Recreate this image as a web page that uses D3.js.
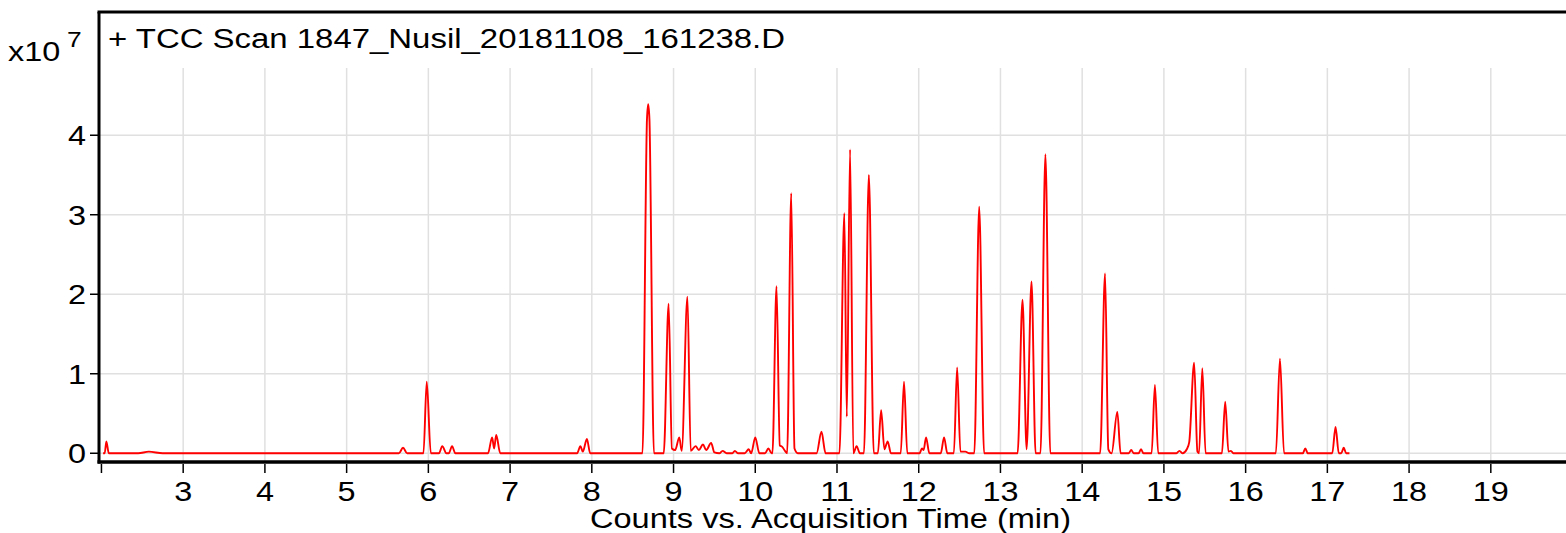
<!DOCTYPE html>
<html>
<head>
<meta charset="utf-8">
<script src="https://cdn.jsdelivr.net/npm/d3@7"></script>
<style>
  body { margin: 0; background: #fff; }
  text { font-family: "Liberation Sans", Arial, sans-serif; fill: #000; }
</style>
</head>
<body>
<div id="chart"></div>
<script>
// chromatogram trace: retention time (min) and counts (x10^7)
var rt = [
  2.02, 2.04, 2.06, 2.09, 2.45, 2.58, 2.75,
  5.64, 5.69, 5.74, 5.94, 5.98, 6.03, 6.13, 6.17, 6.22, 6.25, 6.29, 6.33,
  6.73, 6.78, 6.805, 6.83, 6.88, 7.82, 7.86, 7.89, 7.94, 7.98,
  8.62, 8.675, 8.69, 8.705, 8.76, 8.88, 8.94, 8.98, 9.02, 9.07, 9.10, 9.17, 9.21,
  9.27, 9.31, 9.36, 9.40, 9.46, 9.50, 9.56, 9.60, 9.65, 9.72, 9.75, 9.79,
  9.87, 9.92, 9.95, 10.00, 10.05, 10.12, 10.16, 10.20,
  10.21, 10.26, 10.30, 10.33, 10.37, 10.39, 10.44, 10.48, 10.52,
  10.75, 10.81, 10.86, 11.03, 11.09, 11.12, 11.16, 11.20, 11.24, 11.28,
  11.33, 11.39, 11.45, 11.50, 11.54, 11.58, 11.62, 11.66, 11.78, 11.82, 11.86,
  12.01, 12.04, 12.06, 12.09, 12.13, 12.27, 12.31, 12.35,
  12.43, 12.47, 12.51, 12.57, 12.62, 12.68, 12.74, 12.80,
  13.21, 13.27, 13.32, 13.38, 13.43, 13.49, 13.55, 13.61,
  14.22, 14.28, 14.32, 14.36, 14.43, 14.47, 14.57, 14.60, 14.63, 14.69, 14.72, 14.75,
  14.85, 14.89, 14.93, 15.15, 15.19, 15.23, 15.28, 15.31, 15.37, 15.41, 15.43, 15.47, 15.51,
  15.71, 15.75, 15.79, 15.82, 15.85, 16.37, 16.42, 16.47, 16.70, 16.73, 16.76,
  17.06, 17.10, 17.14, 17.17, 17.20, 17.23, 17.27
];
var counts = [
  0, 0, 0.15, 0, 0, 0.02, 0,
  0, 0.07, 0, 0, 0.9, 0, 0, 0.09, 0, 0, 0.09, 0,
  0, 0.2, 0.06, 0.23, 0, 0, 0.09, 0.02, 0.18, 0,
  0, 4.2, 4.39, 4.2, 0, 0, 1.88, 0.06, 0.04, 0.2, 0.03, 1.97, 0.03,
  0.09, 0.04, 0.11, 0.04, 0.13, 0.01, 0, 0.03, 0, 0, 0.03, 0,
  0, 0.05, 0, 0.2, 0, 0, 0.06, 0,
  0, 2.1, 0.1, 0.08, 0.02, 0, 3.27, 0.06, 0,
  0, 0.27, 0, 0, 3.02, 0.46, 3.82, 0, 0.09, 0,
  0, 3.5, 0, 0, 0.54, 0.05, 0.15, 0, 0, 0.9, 0,
  0, 0.06, 0.04, 0.2, 0, 0, 0.2, 0,
  0, 1.08, 0.02, 0.02, 0, 0, 3.1, 0,
  0, 1.93, 0.05, 2.16, 0, 0, 3.76, 0,
  0, 2.26, 0.05, 0, 0.52, 0, 0, 0.04, 0, 0, 0.05, 0,
  0, 0.86, 0, 0, 0.03, 0, 0.05, 0.14, 1.14, 0.02, 0, 1.07, 0,
  0, 0.65, 0.02, 0.03, 0, 0, 1.19, 0, 0, 0.06, 0,
  0, 0.33, 0, 0, 0.07, 0, 0
];

var xTicks = [2, 3, 4, 5, 6, 7, 8, 9, 10, 11, 12, 13, 14, 15, 16, 17, 18, 19];
var xTickLabels = ["", "3", "4", "5", "6", "7", "8", "9", "10", "11", "12", "13", "14", "15", "16", "17", "18", "19"];
var yTicks = [0, 1, 2, 3, 4];
var yTickLabels = ["0", "1", "2", "3", "4"];

var titleText = "+ TCC Scan 1847_Nusil_20181108_161238.D";
var xLabelText = "Counts vs. Acquisition Time (min)";

var svgWidth = 1566;
var svgHeight = 533;

var margin = { top: 12, right: 0, bottom: 71, left: 99 };
var stretch = 1.2;   // the text in the picture is wide

var svg = d3.select("#chart")
  .append("svg")
  .attr("width", svgWidth)
  .attr("height", svgHeight);

var xScale = d3.scaleLinear()
  .domain([1.97, 19.92])
  .range([margin.left, svgWidth - margin.right]);

var yScale = d3.scaleLinear()
  .domain([-0.11, 5.55])
  .range([svgHeight - margin.bottom, margin.top]);

var bottomY = svgHeight - margin.bottom;

// grid
svg.append("g")
  .selectAll("line")
  .data(xTicks.slice(1))
  .enter()
  .append("line")
  .attr("x1", d => xScale(d))
  .attr("x2", d => xScale(d))
  .attr("y1", 68)
  .attr("y2", bottomY)
  .attr("stroke", "#e0e0e0")
  .attr("stroke-width", 1.5);

svg.append("g")
  .selectAll("line")
  .data(yTicks)
  .enter()
  .append("line")
  .attr("x1", margin.left)
  .attr("x2", svgWidth)
  .attr("y1", d => yScale(d))
  .attr("y2", d => yScale(d))
  .attr("stroke", "#e0e0e0")
  .attr("stroke-width", 1.5);

// trace
var points = rt.map((t, i) => [t, counts[i]]);
var line = d3.line()
  .x(d => xScale(d[0]))
  .y(d => yScale(d[1]))
  .curve(d3.curveMonotoneX);

svg.append("path")
  .datum(points)
  .attr("d", line)
  .attr("fill", "none")
  .attr("stroke", "#ff0000")
  .attr("stroke-width", 1.9)
  .attr("stroke-linejoin", "round");

// frame
svg.append("line")
  .attr("x1", margin.left - 1.5).attr("x2", svgWidth)
  .attr("y1", margin.top).attr("y2", margin.top)
  .attr("stroke", "#000").attr("stroke-width", 3);

svg.append("line")
  .attr("x1", margin.left).attr("x2", margin.left)
  .attr("y1", margin.top).attr("y2", bottomY + 1.5)
  .attr("stroke", "#000").attr("stroke-width", 3);

svg.append("line")
  .attr("x1", margin.left - 1.5).attr("x2", svgWidth)
  .attr("y1", bottomY).attr("y2", bottomY)
  .attr("stroke", "#000").attr("stroke-width", 3.5);

// x ticks
svg.append("g")
  .selectAll("line")
  .data(xTicks)
  .enter()
  .append("line")
  .attr("x1", d => xScale(d))
  .attr("x2", d => xScale(d))
  .attr("y1", bottomY + 2)
  .attr("y2", bottomY + 11)
  .attr("stroke", "#000")
  .attr("stroke-width", 1.5);

svg.append("g")
  .selectAll("text")
  .data(xTicks)
  .enter()
  .append("text")
  .attr("transform", d => `translate(${xScale(d)}, 501) scale(${stretch}, 1)`)
  .attr("text-anchor", "middle")
  .attr("font-size", "27px")
  .text((d, i) => xTickLabels[i]);

// y ticks
svg.append("g")
  .selectAll("line")
  .data(yTicks)
  .enter()
  .append("line")
  .attr("x1", margin.left - 9)
  .attr("x2", margin.left)
  .attr("y1", d => yScale(d))
  .attr("y2", d => yScale(d))
  .attr("stroke", "#000")
  .attr("stroke-width", 1.5);

svg.append("g")
  .selectAll("text")
  .data(yTicks)
  .enter()
  .append("text")
  .attr("transform", d => `translate(86, ${yScale(d) + 10}) scale(${stretch}, 1)`)
  .attr("text-anchor", "end")
  .attr("font-size", "27px")
  .text((d, i) => yTickLabels[i]);

// exponent
svg.append("text")
  .attr("transform", `translate(8, 61) scale(${stretch}, 1)`)
  .attr("font-size", "27px")
  .text("x10");
svg.append("text")
  .attr("transform", `translate(67, 47) scale(${stretch}, 1)`)
  .attr("font-size", "22px")
  .text("7");

// title
svg.append("text")
  .attr("x", 108)
  .attr("y", 48)
  .attr("font-size", "27px")
  .attr("textLength", 677)
  .attr("lengthAdjust", "spacingAndGlyphs")
  .text(titleText);

// x axis label
svg.append("text")
  .attr("x", 590)
  .attr("y", 528)
  .attr("font-size", "27px")
  .attr("textLength", 481)
  .attr("lengthAdjust", "spacingAndGlyphs")
  .text(xLabelText);
</script>
</body>
</html>
